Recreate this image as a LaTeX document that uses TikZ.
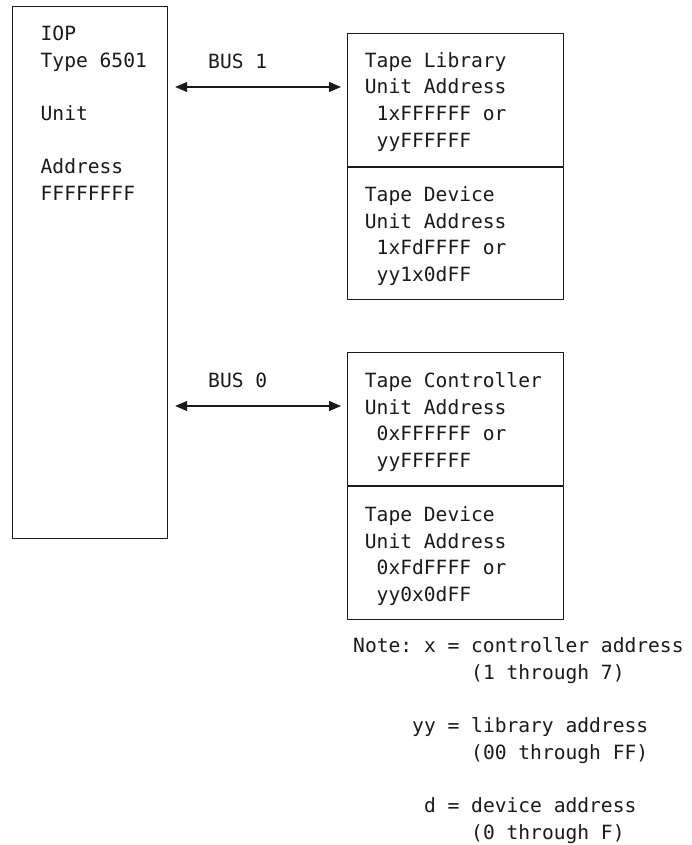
\documentclass[tikz,border=0pt]{standalone}
\usepackage{fontspec}
\setmonofont{DejaVu Sans Mono}
\usepackage{xcolor}
\usetikzlibrary{arrows.meta, positioning}
\definecolor{inkC}{HTML}{1A1A1A}
\definecolor{paperC}{HTML}{FFFFFF}
\newcommand{\indentby}[1]{\hspace*{#1\fontcharwd\font`0}}

\tikzset{
  unitbox/.style={draw=inkC, line width=1.2pt, rectangle, inner sep=0pt,
    minimum width=216},
  celltext/.style={inkC, inner sep=0pt, anchor=north west, align=left,
    font=\ttfamily\fontsize{19.6}{26.6}\selectfont},
  busline/.style={draw=inkC, line width=1.2pt,
    {Triangle[length=12pt, width=10pt]}-{Triangle[length=12pt, width=10pt]},
    shorten <=7pt, shorten >=6pt}
}

\begin{document}
\begin{tikzpicture}[
  x=1pt,
  y=-1pt,
  line cap=round,
  line join=round
]

\useasboundingbox[fill=paperC] (0,0) rectangle (691,845);

% IOP
\node[unitbox, anchor=north west, minimum width=155, minimum height=532] (iop) at (12,6) {};
\node[celltext] (iopText) at ([shift={(28.5,19.7)}]iop.north west)
  {IOP\\Type 6501\\\mbox{}\\Unit\\\mbox{}\\Address\\FFFFFFFF};

% Tape library on bus 1
\node[unitbox, anchor=north west, minimum height=133] (libU) at (347,33) {};
\node[unitbox, below=0pt of libU, minimum height=132] (libD) {};
\node[celltext] (libUText) at ([shift={(17.7,19.3)}]libU.north west)
  {Tape Library\\Unit Address\\\indentby{1}1xFFFFFF or\\\indentby{1}yyFFFFFF};
\node[celltext] (libDText) at ([shift={(17.7,19.5)}]libD.north west)
  {Tape Device\\Unit Address\\\indentby{1}1xFdFFFF or\\\indentby{1}yy1x0dFF};

% Tape controller on bus 0
\node[unitbox, anchor=north west, minimum height=133] (ctlU) at (347,352) {};
\node[unitbox, below=0pt of ctlU, minimum height=133] (ctlD) {};
\node[celltext] (ctlUText) at ([shift={(17.7,20.3)}]ctlU.north west)
  {Tape Controller\\Unit Address\\\indentby{1}0xFFFFFF or\\\indentby{1}yyFFFFFF};
\node[celltext] (ctlDText) at ([shift={(17.7,20.5)}]ctlD.north west)
  {Tape Device\\Unit Address\\\indentby{1}0xFdFFFF or\\\indentby{1}yy0x0dFF};

% Buses
\coordinate (bus1) at (0,87);
\coordinate (bus0) at (0,406);
\node[celltext, anchor=base west] (bus1Label) at (208,69) {BUS 1};
\node[celltext, anchor=base west] (bus0Label) at (208,387) {BUS 0};
\draw[busline] (iop.east |- bus1) -- (libU.west |- bus1);
\draw[busline] (iop.east |- bus0) -- (ctlU.west |- bus0);

% Note
\node[celltext] (note) at (353,637.7)
  {Note: x = controller address\\\indentby{10}(1 through 7)\\\mbox{}\\%
   \indentby{5}yy = library address\\\indentby{10}(00 through FF)\\\mbox{}\\%
   \indentby{6}d = device address\\\indentby{10}(0 through F)};

\end{tikzpicture}
\end{document}
